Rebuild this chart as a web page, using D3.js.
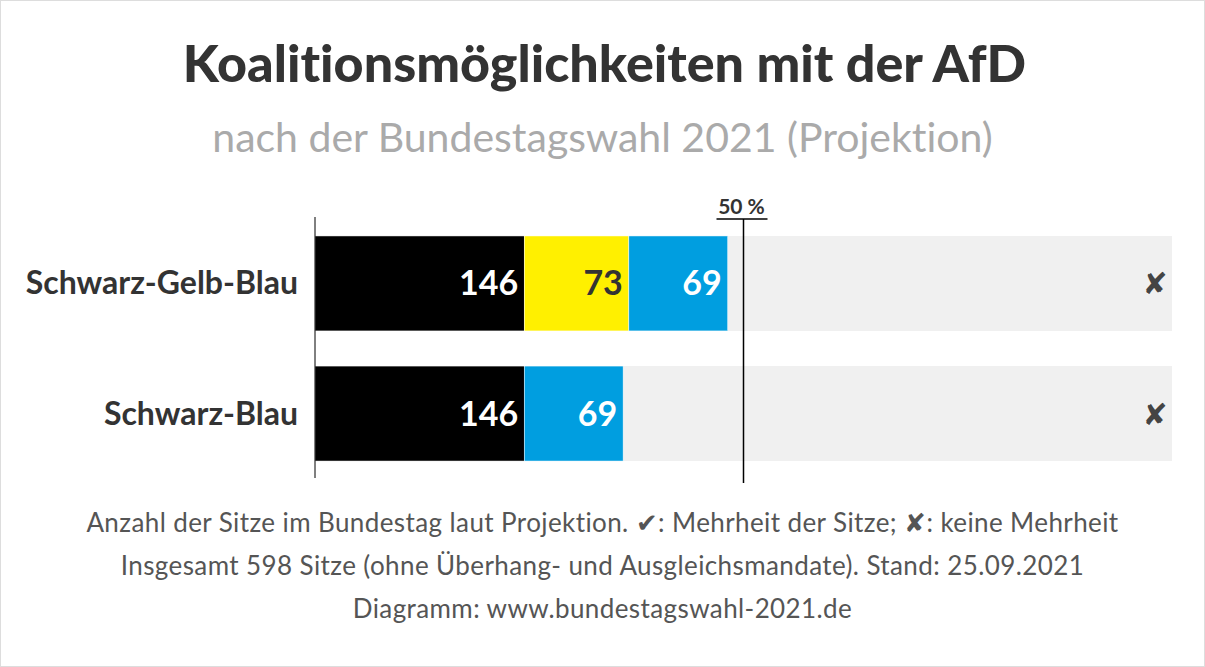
<!DOCTYPE html>
<html><head><meta charset="utf-8">
<script src="https://cdn.jsdelivr.net/npm/d3@7"></script>
<style>
body{margin:0;background:#fff;font-family:Lato,sans-serif;}
svg{display:block;}
text{font-variant-ligatures:none;}
</style></head><body>
<div id="chart"></div>
<script>
const TOTAL = 598;
const coalitions = ["Schwarz-Gelb-Blau", "Schwarz-Blau"];
const seats = [[146, 73, 69], [146, 69]];
const colors = [["#000000", "#fff000", "#009ee0"], ["#000000", "#009ee0"]];
const textColors = [["#fff", "#333", "#fff"], ["#fff", "#fff"]];
const majority = ["✘", "✘"];
const footer = [
  "Anzahl der Sitze im Bundestag laut Projektion. ✔: Mehrheit der Sitze; ✘: keine Mehrheit",
  "Insgesamt 598 Sitze (ohne Überhang- und Ausgleichsmandate). Stand: 25.09.2021",
  "Diagramm: www.bundestagswahl-2021.de"
];

const W = 1205, H = 667;
const svg = d3.select("#chart").append("svg").attr("width", W).attr("height", H);
svg.append("rect").attr("x", 0.5).attr("y", 0.5).attr("width", W - 1).attr("height", H - 1)
  .attr("fill", "#fff").attr("stroke", "#ddd");

svg.append("text").attr("x", W / 2 + 2).attr("y", 82).attr("text-anchor", "middle")
  .attr("font-size", 52).attr("font-weight", 900).attr("fill", "#333")
  .text("Koalitionsmöglichkeiten mit der AfD");
svg.append("text").attr("x", W / 2).attr("y", 152).attr("text-anchor", "middle")
  .attr("font-size", 41).attr("fill", "#aaa")
  .text("nach der Bundestagswahl 2021 (Projektion)");

const X = d3.scaleLinear().domain([0, TOTAL]).range([315, 1172]);
const Y = d3.scaleBand().domain(coalitions).range([221, 476]).paddingInner(0.27).paddingOuter(0.115);

coalitions.forEach((c, i) => {
  const y = Y(c), h = Y.bandwidth();
  svg.append("rect").attr("x", X(0)).attr("y", y).attr("width", X(TOTAL) - X(0)).attr("height", h).attr("fill", "#f0f0f0");
  let acc = 0;
  seats[i].forEach((v, j) => {
    svg.append("rect").attr("x", X(acc)).attr("y", y).attr("width", X(acc + v) - X(acc)).attr("height", h)
      .attr("fill", colors[i][j]).attr("stroke", "#fff").attr("stroke-width", 0.5);
    svg.append("text").attr("x", X(acc + v) - 6).attr("y", y + h / 2 + 12).attr("text-anchor", "end")
      .attr("font-size", 34).attr("font-weight", 700).attr("fill", textColors[i][j]).text(v);
    acc += v;
  });
  svg.append("text").attr("x", 298).attr("y", y + h / 2 + 11).attr("text-anchor", "end")
    .attr("font-size", 32).attr("font-weight", 700).attr("fill", "#333").text(c);
  svg.append("text").attr("x", 1155).attr("y", y + h / 2 + 11).attr("text-anchor", "middle")
    .attr("font-size", 30).attr("font-family", "DejaVu Sans").attr("fill", "#444").text(majority[i]);
});

svg.append("line").attr("x1", 315).attr("x2", 315).attr("y1", 217).attr("y2", 478).attr("stroke", "#000");
const xm = X(TOTAL / 2);
svg.append("line").attr("x1", xm).attr("x2", xm).attr("y1", 219).attr("y2", 483).attr("stroke", "#000").attr("stroke-width", 1.5);
svg.append("line").attr("x1", xm - 27).attr("x2", xm + 24).attr("y1", 219).attr("y2", 219).attr("stroke", "#000").attr("stroke-width", 1.5);
svg.append("text").attr("x", xm - 2).attr("y", 214).attr("text-anchor", "middle")
  .attr("font-size", 21).attr("font-weight", 700).attr("fill", "#333").text("50 %");

footer.forEach((t, i) => {
  svg.append("text").attr("x", W / 2).attr("y", 532 + i * 43).attr("text-anchor", "middle")
    .attr("font-size", 26).attr("letter-spacing", 0.4).attr("fill", "#555").text(t);
});
</script>
</body></html>
